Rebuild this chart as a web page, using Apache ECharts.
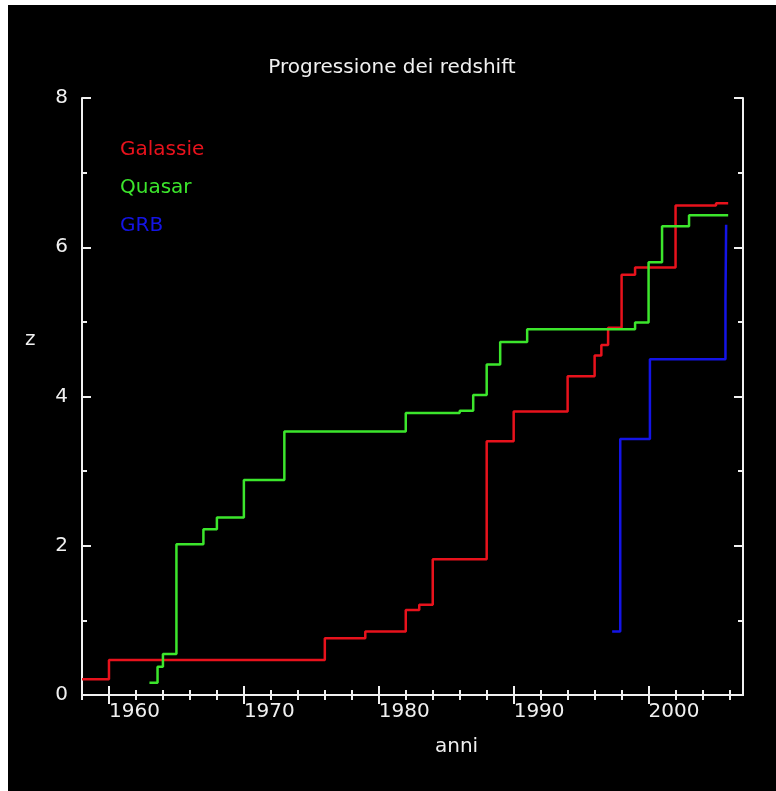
<!DOCTYPE html>
<html>
<head>
<meta charset="utf-8">
<script src="https://cdn.jsdelivr.net/npm/echarts@6/dist/echarts.min.js"></script>
<style>
  html, body { margin: 0; padding: 0; background: #ffffff; width: 776px; height: 791px; overflow: hidden; }
  #chart { position: absolute; left: 8px; top: 5px; width: 768px; height: 786px; }
</style>
</head>
<body>
<div id="chart"></div>
<script>
// Galassie (galaxies): [year, redshift]
const galassie = [
  [1958, 0.21], [1960, 0.47], [1976, 0.76], [1979, 0.85], [1982, 1.14],
  [1983, 1.21], [1984, 1.82], [1988, 3.40], [1990, 3.80], [1994, 4.27],
  [1996, 4.55], [1996.5, 4.69], [1997, 4.92], [1998, 5.63], [1999, 5.73],
  [2002, 6.56], [2005, 6.59], [2005.9, 6.59]
];
// Quasar: [year, redshift]
const quasar = [
  [1963, 0.165], [1963.6, 0.38], [1964, 0.55], [1965, 2.02], [1967, 2.22],
  [1968, 2.38], [1970, 2.88], [1973, 3.53], [1982, 3.78], [1986, 3.81],
  [1987, 4.02], [1988, 4.43], [1989, 4.73], [1991, 4.90], [1999, 4.99],
  [2000, 5.80], [2001, 6.28], [2003, 6.43], [2005.9, 6.43]
];
// GRB: [year, redshift]
const grb = [
  [1997.3, 0.85], [1997.9, 3.43], [2000.1, 4.50], [2005.7, 5.29], [2005.75, 6.30]
];

const seriesNames = ['Galassie', 'Quasar', 'GRB'];
const majorYears = [1960, 1970, 1980, 1990, 2000];
const minorYears = [1958, 1960, 1962, 1964, 1966, 1968, 1970, 1972, 1974, 1976, 1978,
  1980, 1982, 1984, 1986, 1988, 1990, 1992, 1994, 1996, 1998, 2000, 2002, 2004, 2006];
const majorZ = [0, 2, 4, 6, 8];
const minorZ = [0, 1, 2, 3, 4, 5, 6, 7, 8];

const COLORS = ['#e8121c', '#3ce62c', '#1414e6'];
const WHITE = '#f0f0f0';
const FONT = 'DejaVu Sans';

const gridRect = { left: 74, top: 93, width: 661, height: 597 };

function xAx(grid, pos, ticks, len, showLine, labels) {
  return {
    type: 'value', gridIndex: grid, position: pos, min: 1958, max: 2007,
    splitLine: { show: false },
    axisLine: { show: showLine, lineStyle: { color: WHITE, width: 2 } },
    axisTick: { show: true, inside: true, length: len, customValues: ticks,
                lineStyle: { color: WHITE, width: 2 } },
    axisLabel: labels ? { show: true, customValues: labels, align: 'left', margin: 7,
                formatter: v => String(v),
                color: WHITE, fontSize: 20, fontFamily: FONT } : { show: false }
  };
}
function yAx(grid, pos, ticks, len, showLine, labels) {
  return {
    type: 'value', gridIndex: grid, position: pos, min: 0, max: 8,
    splitLine: { show: false },
    axisLine: { show: showLine, lineStyle: { color: WHITE, width: 2 } },
    axisTick: { show: true, inside: true, length: len, customValues: ticks,
                lineStyle: { color: WHITE, width: 2 } },
    axisLabel: labels ? { show: true, customValues: labels, margin: 14,
                formatter: v => String(v),
                color: WHITE, fontSize: 20, fontFamily: FONT } : { show: false }
  };
}

const chart = echarts.init(document.getElementById('chart'), null, { renderer: 'canvas' });
chart.setOption({
  backgroundColor: '#000000',
  animation: false,
  title: {
    text: 'Progressione dei redshift',
    left: 'center', top: 48,
    textStyle: { color: WHITE, fontSize: 20, fontWeight: 'normal', fontFamily: FONT }
  },
  legend: {
    orient: 'vertical', left: 102, top: 130, itemGap: 18,
    icon: 'rect', itemWidth: 0, itemHeight: 0, selectedMode: false,
    textStyle: { fontSize: 20, fontFamily: FONT },
    data: seriesNames.map((n, i) => ({ name: n, textStyle: { color: COLORS[i] } }))
  },
  grid: [
    Object.assign({ containLabel: false }, gridRect),
    Object.assign({ containLabel: false }, gridRect)
  ],
  xAxis: [
    xAx(0, 'bottom', minorYears, 5, true, null),
    xAx(0, 'top', minorYears, 5, true, null),
    xAx(1, 'bottom', majorYears, 9, false, majorYears),
    xAx(1, 'top', majorYears, 9, false, null)
  ],
  yAxis: [
    yAx(0, 'left', minorZ, 5, true, null),
    yAx(0, 'right', minorZ, 5, true, null),
    yAx(1, 'left', majorZ, 9, false, majorZ),
    yAx(1, 'right', majorZ, 9, false, null)
  ],
  graphic: [
    { type: 'text', left: 17, top: 325,
      style: { text: 'z', fill: WHITE, fontSize: 20, fontFamily: FONT } },
    { type: 'text', left: 427, top: 732,
      style: { text: 'anni', fill: WHITE, fontSize: 20, fontFamily: FONT } }
  ],
  series: [galassie, quasar, grb].map((d, i) => ({
    name: seriesNames[i], type: 'line', step: 'end',
    xAxisIndex: 0, yAxisIndex: 0,
    data: d, showSymbol: false, symbol: 'none',
    lineStyle: { color: COLORS[i], width: 2.5 },
    itemStyle: { color: COLORS[i] }
  }))
});
</script>
</body>
</html>
